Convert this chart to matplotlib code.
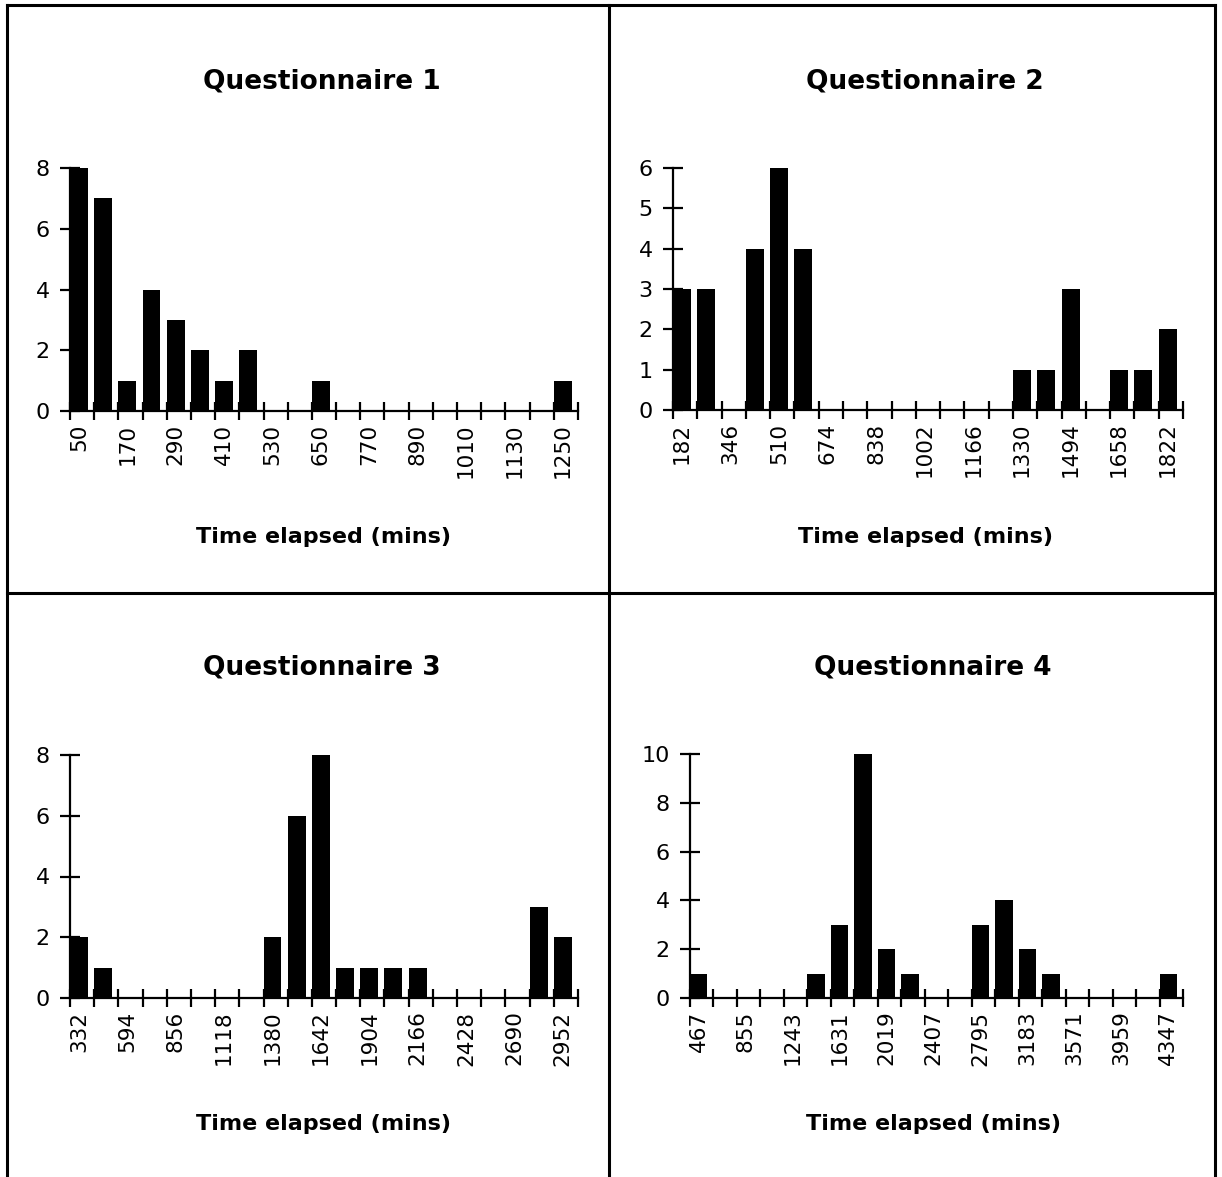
import numpy as np
import matplotlib
matplotlib.use("Agg")
import matplotlib.pyplot as plt
from matplotlib.lines import Line2D

plt.rcParams["font.family"] = ["DejaVu Sans"]

# bins (minutes, start of each bin) and counts per questionnaire
q1_bins = [50, 110, 170, 230, 290, 350, 410, 470, 530, 590, 650, 710, 770, 830,
           890, 950, 1010, 1070, 1130, 1190, 1250]
q1_counts = [8, 7, 1, 4, 3, 2, 1, 2, 0, 0, 1, 0, 0, 0, 0, 0, 0, 0, 0, 0, 1]

q2_bins = [182, 264, 346, 428, 510, 592, 674, 756, 838, 920, 1002, 1084, 1166,
           1248, 1330, 1412, 1494, 1576, 1658, 1740, 1822]
q2_counts = [3, 3, 0, 4, 6, 4, 0, 0, 0, 0, 0, 0, 0, 0, 1, 1, 3, 0, 1, 1, 2]

q3_bins = [332, 463, 594, 725, 856, 987, 1118, 1249, 1380, 1511, 1642, 1773,
           1904, 2035, 2166, 2297, 2428, 2559, 2690, 2821, 2952]
q3_counts = [2, 1, 0, 0, 0, 0, 0, 0, 2, 6, 8, 1, 1, 1, 1, 0, 0, 0, 0, 3, 2]

q4_bins = [467, 661, 855, 1049, 1243, 1437, 1631, 1825, 2019, 2213, 2407, 2601,
           2795, 2989, 3183, 3377, 3571, 3765, 3959, 4153, 4347]
q4_counts = [1, 0, 0, 0, 0, 1, 3, 10, 2, 1, 0, 0, 3, 4, 2, 1, 0, 0, 0, 0, 1]

titles = ["Questionnaire 1", "Questionnaire 2", "Questionnaire 3", "Questionnaire 4"]
xlabel = "Time elapsed (mins)"
ymax = [8, 6, 8, 10]
ystep = [2, 1, 2, 2]

W, H = 1222, 1177
fig = plt.figure(figsize=(W / 100, H / 100), dpi=100)

# axes boxes in pixels: left, right, top (ymax), bottom (zero line)
boxes = [(70, 578, 168, 411), (673, 1183, 168, 410),
         (70, 578, 755, 998), (690, 1183, 754, 998)]
title_xy = [(322, 82), (925, 82), (322, 668), (933, 668)]
label_xy = [(324, 537), (926, 537), (324, 1124), (934, 1124)]

data = [(q1_bins, q1_counts), (q2_bins, q2_counts),
        (q3_bins, q3_counts), (q4_bins, q4_counts)]
bw = 0.74

for k, (bins, counts) in enumerate(data):
    l, r, t, b = boxes[k]
    ax = fig.add_axes([l / W, 1 - b / H, (r - l) / W, (b - t) / H])
    n = len(bins)
    ax.bar(np.arange(n), counts, width=bw, align="edge", color="black", zorder=3)
    ax.set_xlim(0, n)
    ax.set_ylim(0, ymax[k])
    for s in ["top", "right"]:
        ax.spines[s].set_visible(False)
    for s in ["left", "bottom"]:
        ax.spines[s].set_linewidth(1.6)
    ax.set_xticks(np.arange(n + 1))
    ax.set_xticklabels([])
    ax.set_xticks(np.arange(0, n, 2) + bw / 2, [str(v) for v in bins[::2]], minor=True)
    ax.tick_params(axis="x", which="major", direction="inout", length=13, width=1.6)
    ax.tick_params(axis="x", which="minor", length=0, pad=9, labelsize=15.5,
                   labelrotation=90)
    for lab in ax.get_xticklabels(minor=True):
        lab.set_va("top")
    ax.set_yticks(np.arange(0, ymax[k] + 1, ystep[k]))
    ax.tick_params(axis="y", direction="inout", length=15, width=1.6, pad=7,
                   labelsize=16)
    ax.patch.set_alpha(0)

    tx, ty = title_xy[k]
    fig.text(tx / W, 1 - ty / H, titles[k], ha="center", va="center",
             fontsize=19, fontweight="bold")
    lx, ly = label_xy[k]
    fig.text(lx / W, 1 - ly / H, xlabel, ha="center", va="center",
             fontsize=16, fontweight="bold")

# panel border lines
lw = 2.2
for x0, y0, x1, y1 in [(7, 5, 1215, 5), (7, 5, 7, 1177), (1215, 5, 1215, 1177),
                       (609, 5, 609, 1177), (7, 593, 1215, 593)]:
    fig.add_artist(Line2D([x0 / W, x1 / W], [1 - y0 / H, 1 - y1 / H],
                          transform=fig.transFigure, color="black", lw=lw))

fig.savefig("out.png", dpi=100, facecolor="white")
